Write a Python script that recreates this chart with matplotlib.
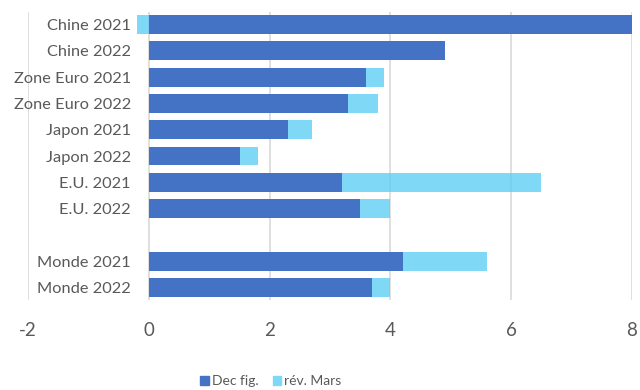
import numpy as np
import matplotlib.pyplot as plt
from matplotlib.patches import Patch

labels = ["Chine 2021", "Chine 2022", "Zone Euro 2021", "Zone Euro 2022",
          "Japon 2021", "Japon 2022", "E.U. 2021", "E.U. 2022",
          "Monde 2021", "Monde 2022"]
dec_fig = [8.0, 4.9, 3.6, 3.3, 2.3, 1.5, 3.2, 3.5, 4.2, 3.7]
rev_mars = [-0.2, 0.0, 0.3, 0.5, 0.4, 0.3, 3.3, 0.5, 1.4, 0.3]
# une ligne vide entre E.U. et Monde
pos = [0, 1, 2, 3, 4, 5, 6, 7, 9, 10]

plt.rcParams['font.family'] = ['Lato', 'DejaVu Sans']
plt.rcParams['axes.unicode_minus'] = False
gris = '#595959'
bleu = '#4472c4'
clair = '#5dcdf6'

fig = plt.figure(figsize=(6.4, 3.9), dpi=100)
ax = fig.add_axes([0.044, 0.231, 0.9435, 0.738])

dec = np.array(dec_fig)
rev = np.array(rev_mars)
gauche = np.where(rev < 0, 0, dec)

ax.barh(pos, dec, height=0.72, color=bleu, zorder=2)
ax.barh(pos, rev, left=gauche, height=0.72, color=clair, alpha=0.78, zorder=2)

ax.set_xlim(-2, 8)
ax.set_ylim(10.475, -0.475)
ax.set_xticks([-2, 0, 2, 4, 6, 8])
ax.grid(axis='x', color='#d9d9d9', linewidth=1.2, zorder=0)

ax.set_yticks(pos)
ax.set_yticklabels(labels)
ax.spines['left'].set_position(('data', 0))
for s in ax.spines.values():
    s.set_visible(False)
ax.tick_params(axis='y', length=0, pad=13, labelsize=11.8, labelcolor=gris)
ax.tick_params(axis='x', length=0, pad=16, labelsize=13.5, labelcolor=gris)

handles = [Patch(color=bleu), Patch(color='#80d8f8')]
fig.legend(handles, ["Dec fig.", "rév. Mars"], loc='center',
           bbox_to_anchor=(271 / 640, 1 - 381 / 390), ncol=2, frameon=False,
           fontsize=10, labelcolor=gris, handlelength=0.6, handleheight=0.6,
           handletextpad=0.25, columnspacing=1.0)

fig.savefig('out.png')
